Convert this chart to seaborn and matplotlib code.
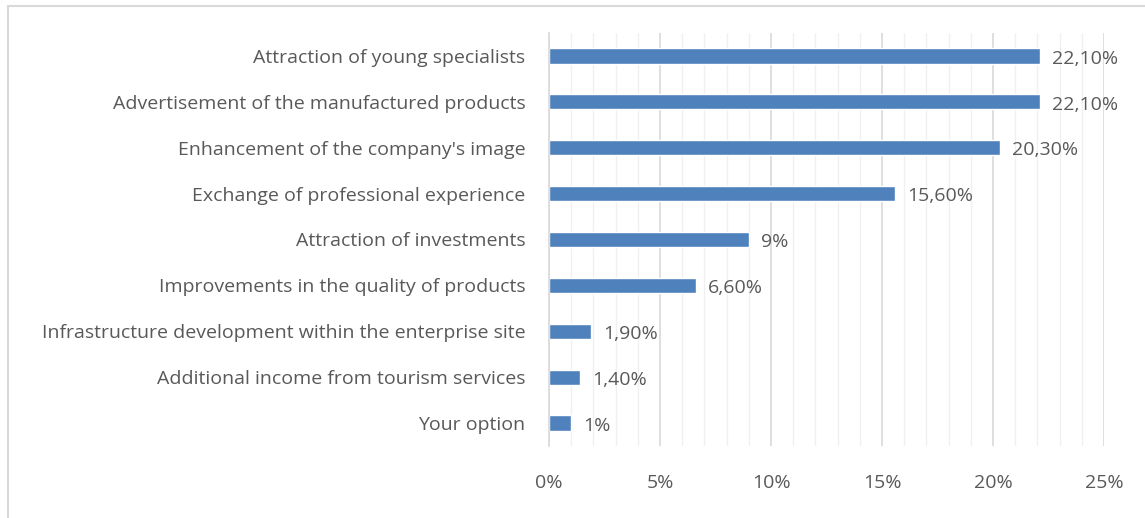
import matplotlib
matplotlib.use("Agg")
import matplotlib.pyplot as plt
import matplotlib.patches as patches
from matplotlib.ticker import MultipleLocator, FuncFormatter
import pandas as pd
import seaborn as sns

categories = [
    "Attraction of young specialists",
    "Advertisement of the manufactured products",
    "Enhancement of the company's image",
    "Exchange of professional experience",
    "Attraction of investments",
    "Improvements in the quality of products",
    "Infrastructure development within the enterprise site",
    "Additional income from tourism services",
    "Your option",
]
values = [22.1, 22.1, 20.3, 15.6, 9.0, 6.6, 1.9, 1.4, 1.0]
value_labels = ["22,10%", "22,10%", "20,30%", "15,60%", "9%", "6,60%", "1,90%", "1,40%", "1%"]

df = pd.DataFrame({"category": categories, "value": values})

sns.set_style("white")
plt.rcParams["font.family"] = ["Open Sans", "DejaVu Sans"]
text_color = "#595959"

fig = plt.figure(figsize=(11.45, 5.18), dpi=100)
ax = fig.add_axes([549 / 1145, 1 - 446 / 518, (1104 - 549) / 1145, (446 - 33) / 518])

sns.barplot(data=df, y="category", x="value", color="#4f81bd", saturation=1,
            width=0.33, orient="h", ax=ax)

ax.set_xlim(0, 25)
ax.xaxis.set_major_locator(MultipleLocator(5))
ax.xaxis.set_minor_locator(MultipleLocator(1))
ax.xaxis.set_major_formatter(FuncFormatter(lambda v, p: f"{v:.0f}%"))
ax.grid(axis="x", which="major", color="#d9d9d9", linewidth=1.2)
ax.grid(axis="x", which="minor", color="#f0f0f0", linewidth=1.0)
ax.set_axisbelow(True)

for s in ["top", "right", "bottom"]:
    ax.spines[s].set_visible(False)
ax.spines["left"].set_color("#d9d9d9")
ax.spines["left"].set_linewidth(1.2)

ax.set_xlabel("")
ax.set_ylabel("")
ax.tick_params(axis="both", which="both", length=0, labelsize=14, colors=text_color)
ax.tick_params(axis="x", pad=20)
ax.tick_params(axis="y", pad=17)

for i, (v, lab) in enumerate(zip(values, value_labels)):
    ax.text(v + 0.55, i + 0.06, lab, va="center", ha="left", fontsize=14, color=text_color)

fig.patches.append(patches.Rectangle((8 / 1145, -0.1), 1.2, 1 - 6 / 518 + 0.1,
                                     transform=fig.transFigure, fill=False,
                                     edgecolor="#d9d9d9", linewidth=1.5))

fig.savefig("out.png", dpi=100)
